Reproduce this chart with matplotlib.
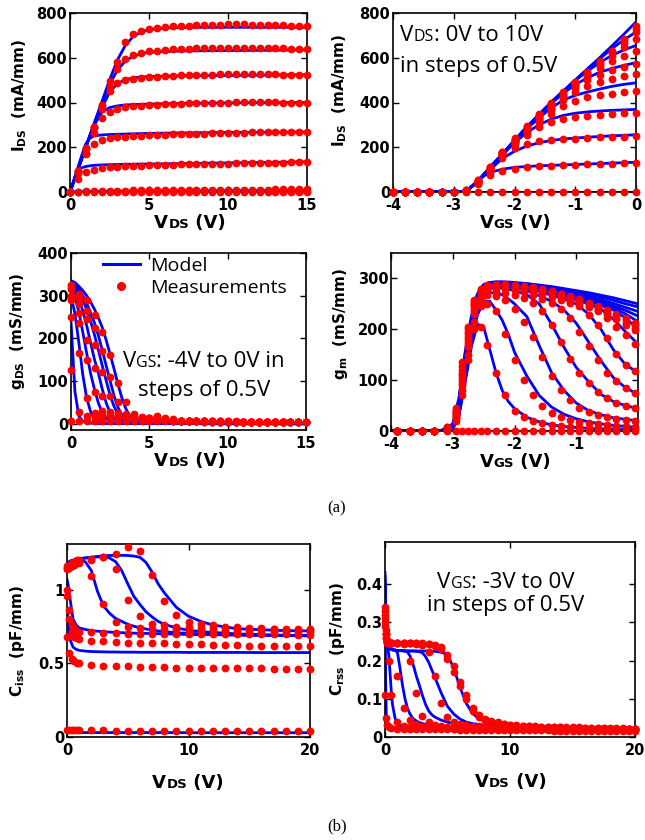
import matplotlib
matplotlib.use('Agg')
import matplotlib.pyplot as plt
from matplotlib import ticker
from matplotlib.lines import Line2D
from matplotlib.offsetbox import TextArea, HPacker, VPacker, AnnotationBbox

BLUE = '#0000ff'
RED = '#ff0000'

# ---- (a) top-left: I_DS vs V_DS, V_GS = 0 ... -3.5 V ----
IV_VDS_MEAS = [0, 0.5, 1, 1.5, 2, 2.5, 3, 3.5, 4, 4.5, 5, 5.5, 6, 6.5, 7, 7.5, 8, 8.5, 9, 9.5,
               10, 10.5, 11, 11.5, 12, 12.5, 13, 13.5, 14, 14.5, 15]
IV_MEAS_0 = [0, 95, 195, 290, 390, 495, 580, 670, 705, 720, 728, 733, 737, 740, 742, 744, 746, 747, 748, 748,
             749, 749, 749, 748, 748, 747, 746, 745, 744, 742, 741]
IV_MEAS_1 = [0, 95, 195, 290, 385, 470, 550, 595, 613, 622, 628, 632, 635, 637, 639, 641, 642, 643, 644, 645,
             645, 645, 645, 645, 644, 644, 643, 642, 641, 640, 638]
IV_MEAS_2 = [0, 95, 190, 285, 370, 450, 485, 500, 507, 511, 514, 516, 518, 520, 521, 522, 523, 524, 525, 526,
             526, 527, 527, 527, 527, 526, 526, 525, 525, 524, 523]
IV_MEAS_3 = [0, 85, 175, 265, 330, 358, 372, 379, 383, 386, 388, 390, 392, 394, 395, 396, 397, 398, 399, 400,
             400, 401, 401, 401, 401, 401, 401, 400, 400, 400, 400]
IV_MEAS_4 = [0, 85, 170, 215, 232, 240, 245, 248, 250, 252, 254, 255, 256, 257, 258, 259, 260, 261, 262, 263,
             264, 265, 265, 266, 266, 267, 267, 268, 268, 268, 268]
IV_MEAS_5 = [0, 60, 88, 100, 106, 110, 113, 115, 117, 118, 119, 120, 121, 122, 123, 124, 125, 125, 126, 127,
             127, 128, 129, 129, 130, 130, 131, 131, 132, 132, 133]
IV_MEAS_6 = [0, 2, 3, 4, 5, 5, 6, 6, 7, 7, 7, 8, 8, 8, 8, 9, 9, 9, 9, 10,
             10, 10, 10, 11, 11, 11, 12, 12, 12, 13, 13]
IV_MEAS_7 = [0, 0, 0, 1, 1, 1, 1, 1, 1, 1, 1, 1, 1, 1, 1, 1, 1, 1, 1, 1,
             1, 1, 1, 1, 1, 1, 1, 1, 1, 1, 1]

IV_VDS_MOD = [0, 0.25, 0.5, 0.75, 1, 1.25, 1.5, 2, 2.5, 3, 3.5, 4, 4.5, 5, 6, 7, 8, 10, 12, 15]
IV_MOD_0 = [0, 50, 100, 150, 200, 250, 300, 400, 500, 590, 655, 695, 715, 726, 733, 735, 736, 736, 736, 736]
IV_MOD_1 = [0, 50, 100, 150, 200, 250, 300, 395, 480, 545, 585, 607, 618, 624, 628, 630, 631, 632, 633, 635]
IV_MOD_2 = [0, 50, 100, 150, 200, 250, 295, 375, 445, 485, 502, 510, 514, 516, 518, 519, 520, 521, 522, 524]
IV_MOD_3 = [0, 50, 100, 150, 200, 250, 295, 355, 377, 385, 389, 391, 392, 393, 395, 396, 397, 398, 399, 400]
IV_MOD_4 = [0, 55, 110, 165, 215, 240, 250, 255, 257, 258, 259, 260, 261, 262, 263, 264, 265, 266, 267, 268]
IV_MOD_5 = [0, 48, 92, 108, 114, 117, 119, 121, 122, 123, 124, 124, 125, 125, 126, 127, 128, 130, 132, 135]
IV_MOD_6 = [0, 1, 2, 2, 3, 3, 3, 3, 4, 4, 4, 4, 4, 5, 5, 5, 5, 6, 6, 7]

# ---- (a) top-right: I_DS vs V_GS, V_DS = 0 ... 10 V ----
TR_VGS_MEAS = [-4.0, -3.8, -3.6, -3.4, -3.2, -3.0, -2.8, -2.6, -2.4, -2.2, -2.0,
               -1.8, -1.6, -1.4, -1.2, -1.0, -0.8, -0.6, -0.4, -0.2, 0.0]
TR_MEAS_00 = [0, 0, 0, 0, 0, 0, 0, 0, 0, 0, 0, 0, 0, 0, 0, 0, 0, 0, 0, 0, 0]
TR_MEAS_05 = [0, 0, 0, 0, 0, 0, 3, 35, 75, 95, 105, 110, 114, 117, 119, 121, 123, 125, 126, 128, 130]
TR_MEAS_10 = [0, 0, 0, 0, 0, 0, 3, 40, 90, 150, 195, 215, 226, 232, 236, 239, 242, 244, 246, 248, 250]
TR_MEAS_15 = [0, 0, 0, 0, 0, 0, 4, 42, 95, 160, 215, 255, 290, 312, 325, 334, 340, 345, 349, 352, 355]
TR_MEAS_20 = [0, 0, 0, 0, 0, 0, 4, 44, 98, 165, 220, 265, 310, 350, 385, 408, 423, 433, 440, 446, 450]
TR_MEAS_25 = [0, 0, 0, 0, 0, 0, 5, 45, 100, 168, 224, 272, 320, 365, 410, 445, 472, 492, 507, 518, 527]
TR_MEAS_30 = [0, 0, 0, 0, 0, 0, 5, 46, 102, 170, 226, 276, 325, 372, 420, 465, 500, 525, 545, 558, 570]
TR_MEAS_35 = [0, 0, 0, 0, 0, 0, 6, 47, 104, 172, 228, 280, 330, 378, 425, 472, 515, 555, 585, 610, 630]
TR_MEAS_40 = [0, 0, 0, 0, 0, 0, 6, 48, 106, 174, 230, 283, 335, 383, 430, 477, 522, 565, 610, 650, 686]
TR_MEAS_50 = [0, 0, 0, 0, 0, 0, 7, 50, 108, 176, 233, 286, 338, 388, 435, 482, 528, 573, 620, 668, 716]
TR_MEAS_70 = [0, 0, 0, 0, 0, 0, 8, 52, 110, 178, 236, 290, 342, 392, 440, 487, 533, 578, 625, 675, 730]
TR_MEAS_100 = [0, 0, 0, 0, 0, 0, 9, 55, 113, 181, 240, 295, 347, 397, 445, 492, 538, 584, 632, 685, 744]

TR_VGS_MOD = [-4.0, -3.0, -2.9, -2.8, -2.7, -2.6, -2.5, -2.4, -2.2, -2.0,
              -1.8, -1.6, -1.4, -1.2, -1.0, -0.8, -0.6, -0.4, -0.2, 0.0]
TR_MOD_00 = [0, 0, 0, 0, 0, 0, 0, 0, 0, 0, 0, 0, 0, 0, 0, 0, 0, 0, 0, 0]
TR_MOD_05 = [0, 0, 1, 5, 25, 50, 72, 88, 102, 110, 114, 117, 119, 121, 123, 125, 127, 129, 131, 133]
TR_MOD_10 = [0, 0, 1, 5, 25, 50, 75, 100, 150, 182, 205, 220, 230, 237, 241, 245, 248, 251, 253, 256]
TR_MOD_15 = [0, 0, 1, 5, 25, 50, 78, 108, 165, 220, 265, 300, 325, 342, 352, 358, 362, 365, 367, 369]
TR_MOD_20 = [0, 0, 1, 5, 25, 50, 80, 110, 170, 228, 282, 330, 375, 410, 432, 447, 460, 472, 481, 488]
TR_MOD_25 = [0, 0, 1, 5, 25, 50, 80, 110, 170, 230, 288, 342, 395, 440, 480, 510, 535, 552, 566, 578]
TR_MOD_30 = [0, 0, 1, 5, 25, 50, 80, 110, 170, 230, 290, 345, 400, 450, 498, 540, 578, 610, 635, 655]
TR_MOD_35 = [0, 0, 1, 5, 25, 50, 80, 110, 170, 230, 290, 345, 400, 450, 500, 549, 595, 640, 680, 715]
TR_MOD_100 = [0, 0, 1, 5, 25, 50, 80, 110, 170, 230, 290, 345, 400, 450, 500, 550, 600, 652, 705, 760]

# ---- (a) bottom-left: g_DS vs V_DS ----
GD_VDS_MOD = [0, 0.25, 0.5, 0.75, 1, 1.25, 1.5, 1.75, 2, 2.25, 2.5, 2.75, 3, 3.25, 3.5, 3.75, 4, 4.5, 5, 6, 8, 10, 15]
GD_MOD_A = [335, 331, 322, 312, 300, 285, 268, 248, 225, 195, 162, 128, 92, 60, 35, 18, 9, 3, 1, 0, 0, 0, 0]
GD_MOD_B = [332, 326, 315, 300, 282, 260, 236, 206, 172, 135, 100, 65, 38, 20, 10, 5, 2, 1, 0, 0, 0, 0, 0]
GD_MOD_C = [328, 321, 308, 290, 268, 240, 208, 172, 135, 100, 66, 40, 22, 10, 4, 2, 1, 0, 0, 0, 0, 0, 0]
GD_MOD_D = [324, 313, 292, 265, 230, 190, 150, 118, 80, 48, 25, 12, 5, 2, 1, 0, 0, 0, 0, 0, 0, 0, 0]
GD_MOD_E = [318, 298, 262, 215, 165, 118, 80, 48, 25, 12, 5, 2, 1, 0, 0, 0, 0, 0, 0, 0, 0, 0, 0]
GD_MOD_F = [300, 258, 190, 115, 60, 28, 12, 5, 2, 1, 0, 0, 0, 0, 0, 0, 0, 0, 0, 0, 0, 0, 0]
GD_MOD_G = [240, 75, 18, 6, 2, 1, 0, 0, 0, 0, 0, 0, 0, 0, 0, 0, 0, 0, 0, 0, 0, 0, 0]

GD_VDS_MEAS = IV_VDS_MEAS
GD_MEAS_A = [325, 305, 290, 255, 215, 160, 95, 50, 22, 15, 14, 18, 12, 10, 6, 5, 5, 4, 4, 4,
             4, 3, 3, 3, 3, 3, 3, 3, 3, 3, 3]
GD_MEAS_B = [320, 295, 265, 225, 170, 110, 50, 22, 15, 14, 12, 15, 10, 8, 6, 5, 5, 5, 4, 4,
             4, 4, 3, 3, 3, 3, 3, 3, 3, 3, 3]
GD_MEAS_C = [315, 280, 245, 185, 120, 65, 25, 17, 15, 13, 12, 10, 9, 8, 6, 5, 5, 5, 4, 4,
             4, 4, 4, 3, 3, 3, 3, 3, 3, 3, 3]
GD_MEAS_D = [300, 260, 195, 130, 65, 28, 18, 16, 14, 12, 11, 10, 9, 7, 6, 6, 5, 5, 5, 4,
             4, 4, 4, 4, 3, 3, 3, 3, 3, 3, 3]
GD_MEAS_E = [290, 235, 150, 75, 30, 20, 17, 15, 13, 12, 11, 10, 9, 7, 6, 6, 5, 5, 5, 5,
             4, 4, 4, 4, 4, 3, 3, 3, 3, 3, 3]
GD_MEAS_F = [250, 165, 60, 25, 20, 18, 16, 14, 13, 12, 11, 10, 9, 7, 6, 6, 6, 5, 5, 5,
             5, 4, 4, 4, 4, 4, 3, 3, 3, 3, 3]
GD_MEAS_G = [125, 28, 18, 16, 15, 14, 13, 12, 12, 11, 10, 9, 8, 7, 6, 6, 6, 5, 5, 5,
             5, 5, 4, 4, 4, 4, 4, 4, 3, 3, 3]
GD_MEAS_H = [5, 5, 6, 6, 6, 6, 6, 6, 5, 5, 5, 5, 5, 5, 5, 5, 5, 4, 4, 4,
             4, 4, 4, 4, 4, 4, 4, 4, 4, 4, 4]

# ---- (a) bottom-right: g_m vs V_GS ----
GM_VGS_MOD = [-4.0, -3.2, -3.0, -2.9, -2.8, -2.7, -2.6, -2.5, -2.4, -2.3, -2.2, -2.1,
              -2.0, -1.8, -1.6, -1.4, -1.2, -1.0, -0.8, -0.6, -0.4, -0.2, 0.0]
GM_MOD_00 = [0, 0, 0, 0, 0, 0, 0, 0, 0, 0, 0, 0, 0, 0, 0, 0, 0, 0, 0, 0, 0, 0, 0]
GM_MOD_05 = [0, 0, 4, 30, 95, 165, 210, 205, 160, 115, 80, 58, 44, 27, 18, 12, 9, 7, 5, 4, 4, 3, 3]
GM_MOD_10 = [0, 0, 5, 32, 100, 175, 228, 255, 255, 238, 218, 190, 155, 108, 70, 47, 33, 24, 18, 14, 11, 9, 7]
GM_MOD_15 = [0, 0, 5, 33, 105, 180, 235, 262, 272, 272, 268, 260, 250, 225, 168, 115, 80, 55, 40, 32, 26, 23, 20]
GM_MOD_20 = [0, 0, 6, 35, 110, 185, 240, 268, 280, 282, 281, 279, 276, 268, 250, 210, 165, 125, 97, 72, 58, 50, 44]
GM_MOD_25 = [0, 0, 6, 37, 115, 190, 245, 272, 284, 286, 286, 284, 282, 276, 266, 255, 238, 212, 175, 138, 105, 85, 72]
GM_MOD_30 = [0, 0, 7, 40, 120, 195, 250, 276, 286, 288, 288, 287, 285, 280, 274, 267, 260, 250, 230, 200, 160, 130, 115]
GM_MOD_35 = [0, 0, 8, 42, 125, 200, 254, 279, 288, 290, 290, 289, 287, 283, 278, 272, 266, 258, 250, 240, 220, 195, 171]
GM_MOD_40 = [0, 0, 8, 45, 130, 205, 257, 281, 289, 291, 291, 290, 288, 285, 280, 275, 269, 262, 255, 247, 238, 222, 200]
GM_MOD_50 = [0, 0, 9, 48, 135, 208, 259, 282, 290, 292, 292, 291, 289, 286, 281, 276, 271, 265, 258, 251, 242, 230, 215]
GM_MOD_60 = [0, 0, 10, 52, 140, 212, 262, 284, 291, 292, 292, 291, 290, 287, 283, 278, 273, 267, 261, 254, 246, 237, 226]
GM_MOD_70 = [0, 0, 11, 56, 145, 216, 265, 285, 291, 292, 292, 292, 290, 288, 284, 280, 275, 270, 264, 258, 251, 243, 235]
GM_MOD_85 = [0, 0, 12, 60, 150, 220, 268, 287, 292, 293, 293, 292, 291, 289, 286, 282, 278, 273, 268, 263, 257, 250, 244]
GM_MOD_100 = [0, 0, 14, 65, 155, 225, 270, 288, 292, 293, 293, 293, 292, 290, 287, 284, 280, 276, 272, 267, 262, 256, 250]

GM_VGS_MEAS = [-3.9, -3.7, -3.5, -3.3, -3.1, -2.95, -2.85, -2.75, -2.65, -2.55, -2.45, -2.3, -2.15, -2.0,
               -1.85, -1.7, -1.55, -1.4, -1.25, -1.1, -0.95, -0.8, -0.65, -0.5, -0.35, -0.2, -0.05]
GM_MEAS_00 = [0, 0, 0, 0, 0, 0, 0, 0, 0, 0, 0, 0, 0, 0, 0, 0, 0, 0, 0, 0, 0, 0, 0, 0, 0, 0, 0]
GM_MEAS_05 = [0, 0, 0, 0, 2, 20, 70, 140, 200, 205, 170, 115, 70, 40, 28, 20, 15, 12, 10, 8, 7, 6, 5, 5, 4, 4, 4]
GM_MEAS_10 = [0, 0, 0, 0, 3, 25, 80, 150, 215, 245, 250, 235, 190, 140, 100, 70, 50, 36, 28, 22, 18, 15, 13, 11, 10, 9, 8]
GM_MEAS_15 = [0, 0, 0, 0, 3, 28, 90, 165, 230, 258, 268, 266, 258, 240, 215, 185, 145, 108, 80, 60, 46, 38, 32, 27, 24, 22, 20]
GM_MEAS_20 = [0, 0, 0, 0, 3, 30, 95, 170, 235, 262, 272, 274, 272, 268, 262, 252, 235, 208, 175, 142, 115, 95, 76, 64, 56, 50, 45]
GM_MEAS_25 = [0, 0, 0, 0, 4, 32, 100, 175, 240, 266, 276, 280, 280, 278, 274, 268, 260, 252, 240, 222, 195, 168, 140, 115, 98, 85, 75]
GM_MEAS_30 = [0, 0, 0, 0, 4, 34, 105, 180, 244, 270, 280, 283, 283, 282, 279, 275, 270, 264, 258, 252, 245, 228, 208, 182, 152, 130, 118]
GM_MEAS_35 = [0, 0, 0, 0, 5, 36, 110, 185, 248, 272, 282, 285, 285, 284, 282, 278, 274, 268, 262, 256, 250, 244, 236, 222, 205, 188, 172]
GM_MEAS_40 = [0, 0, 0, 0, 5, 38, 115, 190, 250, 274, 284, 286, 286, 285, 283, 280, 276, 272, 266, 260, 253, 245, 238, 230, 220, 208, 198]
GM_MEAS_50 = [0, 0, 0, 0, 6, 40, 120, 195, 252, 276, 285, 287, 287, 286, 284, 281, 277, 273, 268, 262, 256, 249, 241, 232, 222, 212, 203]
GM_MEAS_70 = [0, 0, 0, 0, 7, 42, 128, 200, 255, 278, 286, 288, 288, 287, 285, 282, 278, 274, 269, 264, 258, 251, 244, 236, 227, 218, 208]
GM_MEAS_100 = [0, 0, 0, 0, 8, 45, 135, 205, 258, 280, 287, 289, 289, 288, 286, 283, 279, 275, 270, 265, 259, 252, 245, 238, 230, 222, 212]

# ---- (b) left: C_iss vs V_DS ----
CI_VDS_MOD = [0, 0.1, 0.2, 0.3, 0.5, 0.75, 1, 1.5, 2, 2.5, 3, 3.5, 4, 4.5, 5, 5.5, 6, 6.5, 7, 7.5,
              8, 9, 10, 11, 12, 14, 16, 18, 20]
CI_MOD_1 = [1.18, 1.185, 1.19, 1.195, 1.2, 1.205, 1.21, 1.215, 1.22, 1.225, 1.23, 1.232, 1.233, 1.233, 1.232,
            1.228, 1.22, 1.185, 1.12, 1.04, 0.98, 0.88, 0.82, 0.785, 0.76, 0.735, 0.728, 0.722, 0.72]
CI_MOD_2 = [1.18, 1.185, 1.19, 1.195, 1.2, 1.205, 1.21, 1.215, 1.22, 1.222, 1.222, 1.215, 1.19, 1.13, 1.04,
            0.955, 0.9, 0.85, 0.815, 0.785, 0.765, 0.74, 0.725, 0.715, 0.71, 0.70, 0.695, 0.69, 0.69]
CI_MOD_3 = [1.17, 1.175, 1.18, 1.185, 1.19, 1.195, 1.2, 1.19, 1.13, 0.99, 0.89, 0.84, 0.805, 0.785, 0.765,
            0.752, 0.742, 0.733, 0.726, 0.72, 0.715, 0.708, 0.703, 0.70, 0.697, 0.693, 0.69, 0.69, 0.69]
CI_MOD_4 = [1.07, 1.03, 0.97, 0.91, 0.8, 0.76, 0.74, 0.73, 0.722, 0.718, 0.715, 0.712, 0.71, 0.708, 0.706,
            0.705, 0.704, 0.703, 0.702, 0.701, 0.70, 0.698, 0.696, 0.695, 0.694, 0.692, 0.69, 0.688, 0.686]
CI_MOD_5 = [0.87, 0.78, 0.7, 0.65, 0.61, 0.595, 0.588, 0.583, 0.58, 0.579, 0.578, 0.577, 0.577, 0.576, 0.576,
            0.576, 0.575, 0.575, 0.575, 0.575, 0.575, 0.575, 0.574, 0.574, 0.574, 0.574, 0.573, 0.573, 0.573]
CI_MOD_6 = [0.032, 0.031, 0.031, 0.031, 0.03, 0.03, 0.03, 0.03, 0.03, 0.03, 0.03, 0.03, 0.03, 0.03, 0.03,
            0.03, 0.03, 0.03, 0.03, 0.03, 0.03, 0.03, 0.029, 0.029, 0.029, 0.029, 0.029, 0.029, 0.029]

CI_VDS_MEAS = [0, 0.2, 0.4, 0.6, 0.8, 1, 2, 3, 4, 5, 6, 7, 8, 9, 10, 11, 12, 13, 14, 15, 16, 17, 18, 19, 20]
CI_MEAS_1 = [1.16, 1.17, 1.18, 1.19, 1.2, 1.2, 1.21, 1.22, 1.24, 1.29, 1.26, 1.10, 0.92, 0.83, 0.78,
             0.77, 0.76, 0.75, 0.745, 0.74, 0.74, 0.735, 0.735, 0.73, 0.73]
CI_MEAS_2 = [1.15, 1.16, 1.17, 1.18, 1.19, 1.19, 1.2, 1.22, 1.14, 0.93, 0.82, 0.77, 0.76, 0.75, 0.745,
             0.74, 0.74, 0.735, 0.735, 0.73, 0.73, 0.73, 0.725, 0.725, 0.725]
CI_MEAS_3 = [1.14, 1.15, 1.16, 1.17, 1.18, 1.18, 1.09, 0.90, 0.78, 0.75, 0.74, 0.735, 0.73, 0.73, 0.725,
             0.725, 0.72, 0.72, 0.72, 0.72, 0.715, 0.715, 0.715, 0.71, 0.71]
CI_MEAS_4 = [1.0, 0.86, 0.76, 0.73, 0.72, 0.715, 0.71, 0.705, 0.705, 0.70, 0.70, 0.70, 0.70, 0.70, 0.698,
             0.698, 0.698, 0.697, 0.697, 0.697, 0.696, 0.696, 0.696, 0.695, 0.695]
CI_MEAS_5 = [0.96, 0.8, 0.71, 0.68, 0.67, 0.665, 0.655, 0.65, 0.645, 0.64, 0.64, 0.635, 0.635, 0.63, 0.63,
             0.63, 0.625, 0.625, 0.625, 0.62, 0.62, 0.62, 0.62, 0.615, 0.615]
CI_MEAS_6 = [0.68, 0.57, 0.53, 0.515, 0.505, 0.5, 0.49, 0.485, 0.48, 0.48, 0.475, 0.475, 0.475, 0.47, 0.47,
             0.47, 0.47, 0.465, 0.465, 0.465, 0.465, 0.46, 0.46, 0.46, 0.46]
CI_MEAS_7 = [0.045, 0.046, 0.045, 0.045, 0.045, 0.045, 0.046, 0.045, 0.044, 0.044, 0.044, 0.044, 0.044,
             0.043, 0.043, 0.043, 0.043, 0.043, 0.043, 0.042, 0.042, 0.042, 0.042, 0.042, 0.042]

# ---- (b) right: C_rss vs V_DS ----
CR_VDS_MOD = [0, 0.05, 0.1, 0.2, 0.3, 0.4, 0.5, 0.6, 0.8, 1.0, 1.2, 1.4, 1.6, 1.8, 2.0, 2.25, 2.5, 2.75,
              3.0, 3.25, 3.5, 3.75, 4.0, 4.5, 5.0, 5.5, 6.0, 6.5, 7.0, 7.5, 8.0, 9.0, 10, 12, 15, 20]
CR_MOD_0 = [0.43, 0.15, 0.06, 0.03, 0.024, 0.022, 0.021, 0.021, 0.02, 0.02, 0.02, 0.02, 0.02, 0.02, 0.02,
            0.02, 0.019, 0.019, 0.019, 0.019, 0.019, 0.019, 0.019, 0.019, 0.018, 0.018, 0.018, 0.018,
            0.018, 0.018, 0.018, 0.018, 0.018, 0.017, 0.017, 0.017]
CR_MOD_1 = [0.42, 0.3, 0.26, 0.238, 0.215, 0.17, 0.12, 0.085, 0.05, 0.035, 0.03, 0.027, 0.026, 0.025, 0.025,
            0.024, 0.024, 0.024, 0.023, 0.023, 0.023, 0.023, 0.022, 0.022, 0.022, 0.022, 0.021, 0.021,
            0.021, 0.021, 0.021, 0.02, 0.02, 0.02, 0.019, 0.019]
CR_MOD_2 = [0.41, 0.3, 0.262, 0.24, 0.235, 0.232, 0.23, 0.229, 0.228, 0.22, 0.18, 0.135, 0.1, 0.075, 0.06,
            0.048, 0.042, 0.038, 0.035, 0.033, 0.031, 0.03, 0.029, 0.028, 0.027, 0.026, 0.026, 0.025,
            0.025, 0.024, 0.024, 0.023, 0.023, 0.022, 0.021, 0.02]
CR_MOD_3 = [0.4, 0.3, 0.262, 0.24, 0.234, 0.231, 0.229, 0.228, 0.227, 0.226, 0.226, 0.225, 0.225, 0.222,
            0.212, 0.19, 0.16, 0.135, 0.108, 0.085, 0.068, 0.058, 0.052, 0.044, 0.039, 0.035, 0.033, 0.031,
            0.03, 0.029, 0.028, 0.026, 0.025, 0.024, 0.022, 0.021]
CR_MOD_4 = [0.4, 0.3, 0.262, 0.24, 0.234, 0.231, 0.229, 0.228, 0.227, 0.226, 0.226, 0.226, 0.225, 0.225,
            0.225, 0.225, 0.224, 0.223, 0.22, 0.21, 0.195, 0.175, 0.155, 0.115, 0.08, 0.06, 0.047, 0.039,
            0.035, 0.033, 0.031, 0.029, 0.027, 0.025, 0.023, 0.021]
CR_MOD_5 = [0.4, 0.3, 0.262, 0.24, 0.234, 0.231, 0.229, 0.228, 0.227, 0.226, 0.226, 0.226, 0.225, 0.225,
            0.225, 0.225, 0.225, 0.225, 0.225, 0.225, 0.225, 0.224, 0.224, 0.222, 0.215, 0.18, 0.13, 0.088,
            0.062, 0.048, 0.04, 0.031, 0.028, 0.025, 0.023, 0.021]

CR_VDS_MEAS = [0, 0.1, 0.2, 0.35, 0.5, 1.0, 1.5, 2.0, 2.5, 3.0, 3.5, 4.0, 4.5, 5.0, 5.5, 6.0, 6.5, 7.0,
               7.5, 8.0, 8.5, 9.0, 9.5, 10.0, 10.5, 11.0, 11.5, 12.0, 12.5, 13.0, 13.5, 14.0, 14.5, 15.0,
               15.5, 16.0, 16.5, 17.0, 17.5, 18.0, 18.5, 19.0, 19.5, 20.0]
CR_MEAS_0 = [0.11, 0.05, 0.032, 0.026, 0.024, 0.022, 0.021, 0.021, 0.02, 0.02,
             0.02, 0.02, 0.02, 0.02, 0.02, 0.019, 0.019, 0.019, 0.019, 0.019, 0.019, 0.019, 0.018, 0.018,
             0.018, 0.018, 0.018, 0.018, 0.018, 0.018, 0.017, 0.017, 0.017, 0.017,
             0.017, 0.017, 0.017, 0.017, 0.016, 0.016, 0.016, 0.016, 0.016, 0.016]
CR_MEAS_1 = [0.34, 0.28, 0.245, 0.2, 0.11, 0.04, 0.03, 0.027, 0.025, 0.024,
             0.024, 0.023, 0.023, 0.023, 0.022, 0.022, 0.022, 0.022, 0.021, 0.021, 0.021, 0.021, 0.021, 0.021,
             0.021, 0.02, 0.02, 0.02, 0.02, 0.02, 0.02, 0.02, 0.02, 0.02,
             0.019, 0.019, 0.019, 0.019, 0.019, 0.019, 0.019, 0.019, 0.019, 0.019]
CR_MEAS_2 = [0.33, 0.27, 0.248, 0.245, 0.245, 0.16, 0.075, 0.045, 0.033, 0.028,
             0.026, 0.025, 0.025, 0.024, 0.024, 0.024, 0.023, 0.023, 0.023, 0.023, 0.022, 0.022, 0.022, 0.022,
             0.022, 0.022, 0.021, 0.021, 0.021, 0.021, 0.021, 0.021, 0.021, 0.02,
             0.02, 0.02, 0.02, 0.02, 0.02, 0.02, 0.02, 0.02, 0.02, 0.02]
CR_MEAS_3 = [0.32, 0.27, 0.25, 0.245, 0.245, 0.245, 0.243, 0.2, 0.115, 0.055,
             0.038, 0.032, 0.029, 0.027, 0.026, 0.026, 0.025, 0.025, 0.025, 0.024, 0.024, 0.024, 0.024, 0.023,
             0.023, 0.023, 0.023, 0.022, 0.022, 0.022, 0.022, 0.022, 0.022, 0.021,
             0.021, 0.021, 0.021, 0.021, 0.021, 0.021, 0.02, 0.02, 0.02, 0.02]
CR_MEAS_4 = [0.31, 0.27, 0.25, 0.245, 0.245, 0.245, 0.245, 0.245, 0.244, 0.24,
             0.222, 0.16, 0.09, 0.052, 0.04, 0.034, 0.031, 0.029, 0.028, 0.027, 0.026, 0.026, 0.025, 0.025,
             0.025, 0.024, 0.024, 0.024, 0.023, 0.023, 0.023, 0.023, 0.023, 0.022,
             0.022, 0.022, 0.022, 0.022, 0.022, 0.021, 0.021, 0.021, 0.021, 0.021]
CR_MEAS_5 = [0.3, 0.26, 0.25, 0.245, 0.245, 0.245, 0.245, 0.245, 0.245, 0.244,
             0.242, 0.238, 0.23, 0.205, 0.17, 0.134, 0.1, 0.068, 0.053, 0.045, 0.04, 0.036, 0.033, 0.031,
             0.03, 0.029, 0.028, 0.027, 0.026, 0.026, 0.025, 0.025, 0.024, 0.024,
             0.024, 0.023, 0.023, 0.023, 0.023, 0.022, 0.022, 0.022, 0.022, 0.022]
CR_MEAS_6 = [0.29, 0.26, 0.248, 0.245, 0.245, 0.245, 0.245, 0.245, 0.245, 0.245,
             0.244, 0.24, 0.235, 0.215, 0.185, 0.145, 0.11, 0.075, 0.058, 0.048, 0.042, 0.038, 0.035, 0.032,
             0.031, 0.03, 0.029, 0.028, 0.027, 0.027, 0.026, 0.026, 0.025, 0.025,
             0.025, 0.024, 0.024, 0.024, 0.023, 0.023, 0.023, 0.023, 0.022, 0.022]

AX_FONT = 'DejaVu Sans'
NOTE_FONT = 'Open Sans'
NOTE_SIZE = 16
NOTE_SMALL = 11.5


def rich_line(parts, family, weight):
    boxes = [TextArea(s, textprops=dict(fontsize=fs, fontfamily=family, fontweight=weight, color='black'))
             for s, fs in parts]
    return HPacker(children=boxes, align='baseline', pad=0, sep=0)


def put_box(fig, box, x_px, y_px, align=(0.5, 0.5)):
    ab = AnnotationBbox(box, (x_px, 840 - y_px), xycoords='figure pixels', frameon=False,
                        box_alignment=align, pad=0, annotation_clip=False)
    fig.add_artist(ab)


def draw(ax, x_mod, models, x_meas, meas):
    for y in models:
        ax.plot(x_mod, y, color=BLUE, lw=2.0, zorder=2)
    for y in meas:
        ax.plot(x_meas, y, ls='none', marker='o', ms=4.6, color=RED, mec=RED, zorder=3, clip_on=False)


def style(ax, xlim, ylim, xticks, yticks, ylabel, lx, ly):
    ax.set_xlim(*xlim)
    ax.set_ylim(*ylim)
    ax.set_xticks(xticks)
    ax.set_yticks(yticks)
    ax.xaxis.set_major_formatter(ticker.FormatStrFormatter('%g'))
    ax.yaxis.set_major_formatter(ticker.FormatStrFormatter('%g'))
    ax.tick_params(direction='in', length=4, width=1, top=True, right=True,
                   labelsize=10.5, pad=2)
    ax.tick_params(axis='x', pad=4.5)
    for s in ax.spines.values():
        s.set_linewidth(1.2)
    ax.set_ylabel(ylabel, fontsize=11, va='center')
    ax.yaxis.set_label_coords(lx, ly)


def note(lines, align, sep):
    rows = [rich_line(parts, NOTE_FONT, 'normal') for parts in lines]
    return VPacker(children=rows, align=align, pad=0, sep=sep)


def main():
    plt.rcParams['font.family'] = AX_FONT
    plt.rcParams['font.weight'] = 'bold'
    plt.rcParams['axes.unicode_minus'] = False
    plt.rcParams['mathtext.fontset'] = 'dejavusans'

    fig = plt.figure(figsize=(6.45, 8.4), dpi=100)
    W, H = 645.0, 840.0

    def axes_px(left, right, top, bottom):
        return fig.add_axes([left / W, 1 - bottom / H, (right - left) / W, (bottom - top) / H])

    ax1 = axes_px(70, 307, 13, 192)
    ax2 = axes_px(393, 636, 13, 192)
    ax3 = axes_px(71, 306, 253, 430)
    ax4 = axes_px(391, 638, 253, 431)
    ax5 = axes_px(67, 310, 544, 737)
    ax6 = axes_px(385, 635, 542, 737)

    draw(ax1, IV_VDS_MOD, [IV_MOD_0, IV_MOD_1, IV_MOD_2, IV_MOD_3, IV_MOD_4, IV_MOD_5, IV_MOD_6],
         IV_VDS_MEAS, [IV_MEAS_0, IV_MEAS_1, IV_MEAS_2, IV_MEAS_3, IV_MEAS_4, IV_MEAS_5, IV_MEAS_6, IV_MEAS_7])
    style(ax1, (0, 15), (0, 800), [0, 5, 10, 15], [0, 200, 400, 600, 800],
          r'$\mathbf{I}_{\mathbf{DS}}\ \ \mathbf{(mA/mm)}$', -0.211, 0.54)

    draw(ax2, TR_VGS_MOD, [TR_MOD_00, TR_MOD_05, TR_MOD_10, TR_MOD_15, TR_MOD_20, TR_MOD_25, TR_MOD_30,
                           TR_MOD_35, TR_MOD_100],
         TR_VGS_MEAS, [TR_MEAS_00, TR_MEAS_05, TR_MEAS_10, TR_MEAS_15, TR_MEAS_20, TR_MEAS_25, TR_MEAS_30,
                       TR_MEAS_35, TR_MEAS_40, TR_MEAS_50, TR_MEAS_70, TR_MEAS_100])
    style(ax2, (-4, 0), (0, 800), [-4, -3, -2, -1, 0], [0, 200, 400, 600, 800],
          r'$\mathbf{I}_{\mathbf{DS}}\ \ \mathbf{(mA/mm)}$', -0.218, 0.57)

    draw(ax3, GD_VDS_MOD, [GD_MOD_A, GD_MOD_B, GD_MOD_C, GD_MOD_D, GD_MOD_E, GD_MOD_F, GD_MOD_G],
         GD_VDS_MEAS, [GD_MEAS_A, GD_MEAS_B, GD_MEAS_C, GD_MEAS_D, GD_MEAS_E, GD_MEAS_F, GD_MEAS_G, GD_MEAS_H])
    style(ax3, (0, 15), (-15, 400), [0, 5, 10, 15], [0, 100, 200, 300, 400],
          r'$\mathbf{g}_{\mathbf{DS}}\ \ \mathbf{(mS/mm)}$', -0.226, 0.56)

    draw(ax4, GM_VGS_MOD, [GM_MOD_00, GM_MOD_05, GM_MOD_10, GM_MOD_15, GM_MOD_20, GM_MOD_25, GM_MOD_30,
                           GM_MOD_35, GM_MOD_40, GM_MOD_50, GM_MOD_60, GM_MOD_70, GM_MOD_85, GM_MOD_100],
         GM_VGS_MEAS, [GM_MEAS_00, GM_MEAS_05, GM_MEAS_10, GM_MEAS_15, GM_MEAS_20, GM_MEAS_25, GM_MEAS_30,
                       GM_MEAS_35, GM_MEAS_40, GM_MEAS_50, GM_MEAS_70, GM_MEAS_100])
    style(ax4, (-4, 0), (0, 350), [-4, -3, -2, -1], [0, 100, 200, 300],
          r'$\mathbf{g}_{\mathbf{m}}\ \ \mathbf{(mS/mm)}$', -0.206, 0.6)

    draw(ax5, CI_VDS_MOD, [CI_MOD_1, CI_MOD_2, CI_MOD_3, CI_MOD_4, CI_MOD_5, CI_MOD_6],
         CI_VDS_MEAS, [CI_MEAS_1, CI_MEAS_2, CI_MEAS_3, CI_MEAS_4, CI_MEAS_5, CI_MEAS_6, CI_MEAS_7])
    style(ax5, (0, 20), (0, 1.31), [0, 10, 20], [0, 0.5, 1],
          r'$\mathbf{C}_{\mathbf{iss}}\ \ \mathbf{(pF/mm)}$', -0.202, 0.5)

    draw(ax6, CR_VDS_MOD, [CR_MOD_0, CR_MOD_1, CR_MOD_2, CR_MOD_3, CR_MOD_4, CR_MOD_5],
         CR_VDS_MEAS, [CR_MEAS_0, CR_MEAS_1, CR_MEAS_2, CR_MEAS_3, CR_MEAS_4, CR_MEAS_5, CR_MEAS_6])
    style(ax6, (0, 20), (0, 0.51), [0, 10, 20], [0, 0.1, 0.2, 0.3, 0.4],
          r'$\mathbf{C}_{\mathbf{rss}}\ \ \mathbf{(pF/mm)}$', -0.188, 0.5)

    # x labels with small-caps subscripts
    for name, x, y in [('DS', 190, 223), ('GS', 515, 223), ('DS', 190, 461),
                       ('GS', 515, 462), ('DS', 188, 783), ('DS', 511, 782)]:
        put_box(fig, rich_line([('V', 13), (name, 9.5), (' (V)', 13)], AX_FONT, 'bold'), x, y)

    # annotations
    put_box(fig, note([[('V', NOTE_SIZE), ('DS', NOTE_SMALL), (': 0V to 10V', NOTE_SIZE)],
                       [('in steps of 0.5V', NOTE_SIZE)]], 'left', 7), 400, 51, align=(0, 0.5))
    put_box(fig, note([[('V', NOTE_SIZE), ('GS', NOTE_SMALL), (': -4V to 0V in', NOTE_SIZE)],
                       [('steps of 0.5V', NOTE_SIZE)]], 'center', 6), 204, 376)
    put_box(fig, note([[('V', NOTE_SIZE), ('GS', NOTE_SMALL), (': -3V to 0V', NOTE_SIZE)],
                       [('in steps of 0.5V', NOTE_SIZE)]], 'center', 1.5), 506, 594)

    handles = [Line2D([], [], color=BLUE, lw=2.2),
               Line2D([], [], color=RED, marker='o', ls='none', ms=5.5)]
    ax3.legend(handles, ['Model', 'Measurements'], loc='upper left',
               bbox_to_anchor=(103 / W, 1 - 257 / H), bbox_transform=fig.transFigure,
               frameon=False, prop=dict(family=NOTE_FONT, size=14, weight='normal'),
               handlelength=1.9, handletextpad=0.5, labelspacing=0.2, borderpad=0, borderaxespad=0)

    fig.text(337 / W, 1 - 508 / H, '(a)', ha='center', va='center', fontsize=12,
             fontfamily='Liberation Serif', fontweight='normal')
    fig.text(337 / W, 1 - 826 / H, '(b)', ha='center', va='center', fontsize=12,
             fontfamily='Liberation Serif', fontweight='normal')

    fig.savefig('out.png', dpi=100)


if __name__ == '__main__':
    main()
